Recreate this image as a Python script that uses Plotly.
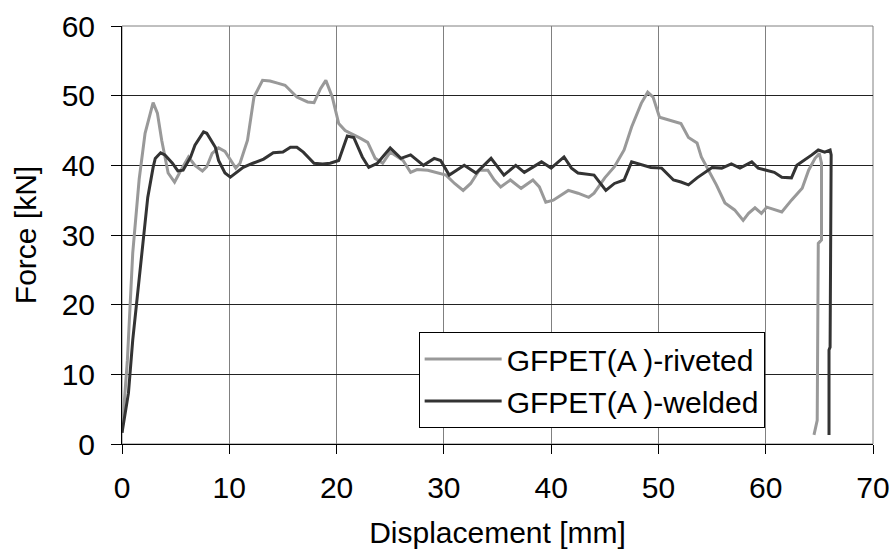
import plotly.graph_objects as go

# GFPET(A)-riveted
riv_x = [0.0, 0.5, 1.0, 1.6, 2.15, 2.9, 3.3, 3.7, 4.3, 4.9, 5.6, 6.2, 6.8, 7.5, 7.9, 8.4, 9.0, 9.6, 10.6,
         11.0, 11.7, 12.3, 13.1, 13.8, 14.5, 15.2, 16.3, 17.3, 17.9, 18.5, 19.0, 19.6, 20.2, 20.8, 22.2,
         22.9, 23.6, 24.3, 25.0, 26.2, 26.9, 27.5, 28.5, 29.4, 30.2, 31.0, 31.8, 32.5, 33.3, 34.1, 34.7,
         35.3, 36.2, 37.2, 38.3, 38.9, 39.5, 40.2, 40.9, 41.6, 42.5, 43.5, 44.0, 45.0, 45.9, 46.8, 47.5,
         48.4, 49.0, 49.5, 50.1, 50.9, 51.9, 52.1, 52.8, 53.6, 54.0, 54.7, 55.4, 56.2, 57.1, 57.9, 58.4,
         59.0, 59.6, 60.1, 61.5, 62.4, 63.4, 64.0, 64.6, 65.0, 65.2, 65.2, 64.9, 64.8, 64.5]
riv_y = [1.6, 12.0, 27.4, 38.0, 44.6, 49.0, 47.5, 43.6, 38.9, 37.6, 39.6, 41.2, 40.0, 39.2, 39.8, 41.7, 42.5,
         42.0, 39.6, 40.3, 43.6, 49.8, 52.2, 52.1, 51.8, 51.5, 49.8, 49.1, 49.0, 51.0, 52.2, 49.8, 46.0,
         45.0, 43.9, 43.3, 41.0, 40.3, 41.9, 40.7, 39.0, 39.4, 39.3, 38.9, 38.6, 37.4, 36.4, 37.4, 39.3,
         39.3, 37.9, 36.9, 37.9, 36.7, 37.9, 36.9, 34.7, 35.0, 35.7, 36.4, 36.0, 35.4, 36.0, 38.2, 39.8,
         42.2, 45.5, 48.9, 50.5, 49.8, 46.9, 46.5, 46.0, 46.0, 44.0, 43.2, 41.2, 39.3, 37.2, 34.6, 33.6,
         32.1, 33.1, 33.9, 33.1, 34.0, 33.3, 35.0, 36.7, 39.3, 41.0, 41.7, 40.3, 29.3, 28.8, 3.4, 1.3]

# GFPET(A)-welded
wel_x = [0.0, 0.6, 1.0, 1.5, 2.0, 2.4, 2.9, 3.1, 3.6, 4.0, 4.7, 5.2, 5.7, 6.4, 6.8, 7.6, 7.9, 8.7, 9.0, 9.6,
         10.1, 10.7, 11.3, 12.2, 13.2, 14.1, 15.0, 15.7, 16.3, 16.9, 17.9, 18.7, 19.4, 20.2, 21.0, 21.6,
         22.4, 23.0, 23.8, 25.0, 26.0, 26.9, 28.1, 29.1, 29.7, 30.5, 31.9, 33.0, 34.4, 35.6, 36.7, 37.5,
         39.1, 40.0, 41.2, 41.9, 42.5, 44.0, 45.1, 45.9, 46.8, 47.5, 49.3, 50.3, 51.4, 52.1, 52.8, 53.6,
         55.0, 55.9, 56.8, 57.6, 58.7, 59.3, 60.8, 61.5, 62.4, 62.9, 63.6, 64.3, 64.9, 65.5, 66.0, 66.1,
         66.0, 65.9, 65.9]
wel_y = [1.6, 7.3, 14.9, 22.5, 30.3, 35.4, 39.7, 41.0, 41.8, 41.5, 40.3, 39.2, 39.3, 41.2, 42.9, 44.8,
         44.6, 42.6, 40.7, 38.9, 38.3, 39.0, 39.7, 40.3, 40.9, 41.8, 41.9, 42.6, 42.6, 41.9, 40.3, 40.2,
         40.3, 40.7, 44.2, 44.0, 41.2, 39.7, 40.3, 42.5, 41.0, 41.5, 40.0, 41.0, 40.7, 38.6, 40.0, 38.9,
         41.0, 38.6, 40.0, 39.0, 40.5, 39.6, 41.2, 39.6, 38.9, 38.6, 36.4, 37.4, 37.9, 40.5, 39.7, 39.6,
         37.9, 37.6, 37.2, 38.2, 39.7, 39.6, 40.2, 39.6, 40.5, 39.6, 39.0, 38.3, 38.2, 40.0, 40.7, 41.5,
         42.2, 41.9, 42.2, 41.5, 13.9, 13.5, 1.3]

x_ticks = [0, 10, 20, 30, 40, 50, 60, 70]
y_ticks = [0, 10, 20, 30, 40, 50, 60]

FAM = "Liberation Sans, Arial, sans-serif"
FS = 30

fig = go.Figure()
fig.add_trace(go.Scatter(x=riv_x, y=riv_y, mode="lines", name="GFPET(A )-riveted",
                         line=dict(color="#999999", width=3)))
fig.add_trace(go.Scatter(x=wel_x, y=wel_y, mode="lines", name="GFPET(A )-welded",
                         line=dict(color="#333333", width=3)))

fig.update_layout(
    width=894, height=552,
    margin=dict(l=122, r=21, t=26, b=108, autoexpand=False),
    paper_bgcolor="white", plot_bgcolor="white",
    font=dict(family=FAM, size=FS, color="black"),
    showlegend=True,
    legend=dict(x=0.395, y=0.268, xanchor="left", yanchor="top",
                bgcolor="white", bordercolor="black", borderwidth=1,
                font=dict(family=FAM, size=FS, color="black"),
                tracegroupgap=0, itemwidth=77,
                entrywidth=372, entrywidthmode="pixels"),
)
fig.update_xaxes(range=[0, 70], tickvals=x_ticks, automargin=False,
                 title=dict(text="Displacement [mm]", standoff=18, font=dict(family=FAM, size=FS)),
                 tickfont=dict(family=FAM, size=FS), ticklabelstandoff=8,
                 showgrid=True, gridcolor="#808080", gridwidth=1,
                 showline=True, linecolor="black", linewidth=1, mirror=False,
                 ticks="outside", ticklen=9, tickcolor="black", zeroline=False)
fig.update_yaxes(range=[0, 60], tickvals=y_ticks, automargin=False,
                 title=dict(text="Force [kN]", standoff=16, font=dict(family=FAM, size=FS)),
                 tickfont=dict(family=FAM, size=FS), ticklabelstandoff=10,
                 showgrid=True, gridcolor="#222222", gridwidth=1,
                 showline=True, linecolor="black", linewidth=1, mirror=False,
                 ticks="outside", ticklen=10, tickcolor="black", zeroline=False)
fig.add_shape(type="rect", xref="paper", yref="paper", x0=0, y0=0, x1=1, y1=1,
              line=dict(color="#808080", width=1), layer="below")

fig.write_html("out.html")
